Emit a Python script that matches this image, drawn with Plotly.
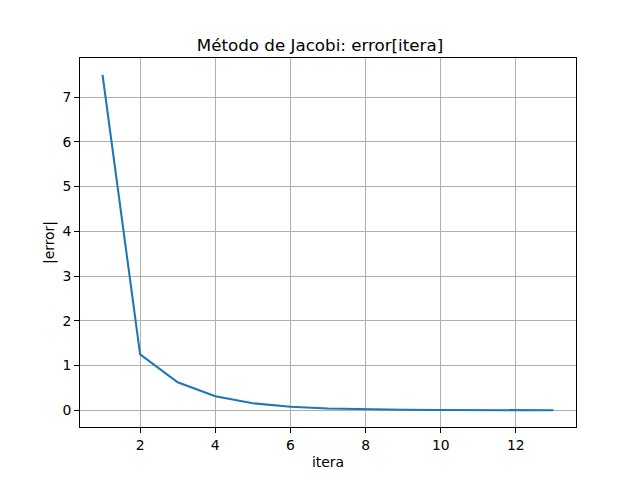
import plotly.graph_objects as go

itera = [1, 2, 3, 4, 5, 6, 7, 8, 9, 10, 11, 12, 13]
error = [7.5, 1.25, 0.625, 0.3125, 0.156, 0.078, 0.039, 0.0195, 0.0098, 0.0049, 0.0024, 0.0012, 0.0006]

fig = go.Figure()
fig.add_trace(go.Scatter(x=itera, y=error, mode="lines",
                         line=dict(color="#1f77b4", width=2.08)))

axis_common = dict(
    showgrid=True, gridcolor="#b0b0b0", gridwidth=1.1,
    showline=True, linecolor="black", linewidth=1.1, mirror=True,
    ticks="outside", ticklen=4.9, tickwidth=1.1, tickcolor="black",
    zeroline=False,
    tickfont=dict(family="DejaVu Sans", size=13.9, color="black"),
    title_font=dict(family="DejaVu Sans", size=13.9, color="black"),
)

fig.update_layout(
    width=640, height=480,
    margin=dict(l=80, r=64, t=58, b=53),
    paper_bgcolor="white", plot_bgcolor="white",
    showlegend=False,
    title=dict(text="Método de Jacobi: error[itera]", x=0.5, xanchor="center",
               y=1 - 51/480, yanchor="bottom",
               font=dict(family="DejaVu Sans", size=16.7, color="black")),
    xaxis=dict(range=[0.4, 13.6], tickvals=[2, 4, 6, 8, 10, 12],
               title=dict(text="itera", standoff=5), **axis_common),
    yaxis=dict(range=[-0.374, 7.875], tickvals=[0, 1, 2, 3, 4, 5, 6, 7],
               title=dict(text="|error|", standoff=4), **axis_common),
)

fig.write_html("out.html", config={"displayModeBar": False},
               post_script="document.body.style.margin='0';document.body.style.overflow='hidden';")
